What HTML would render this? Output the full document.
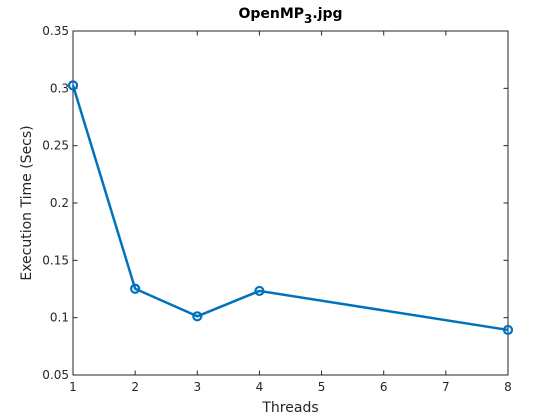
<!DOCTYPE html>
<html><head><meta charset="utf-8"><style>
html,body{margin:0;padding:0;background:#fff;}
svg{display:block;font-family:"DejaVu Sans","Liberation Sans",sans-serif;}
</style></head><body>
<svg id="chart" width="560" height="420" viewBox="0 0 560 420"></svg>
<script>
const categories = [1, 2, 3, 4, 8];
const execTimes = [0.3026, 0.1252, 0.1012, 0.1233, 0.0893];
const xTicks = [1, 2, 3, 4, 5, 6, 7, 8];
const yTicks = [0.05, 0.1, 0.15, 0.2, 0.25, 0.3, 0.35];
const yTickLabels = ["0.05", "0.1", "0.15", "0.2", "0.25", "0.3", "0.35"];

const L = 73, R = 508, T = 31, B = 375;
const xMin = 1, xMax = 8, yMin = 0.05, yMax = 0.35;
function xs(v){ return L + (v - xMin) / (xMax - xMin) * (R - L); }
function ys(v){ return B - (v - yMin) / (yMax - yMin) * (B - T); }

const svg = document.getElementById('chart');
const NS = 'http://www.w3.org/2000/svg';
function mk(tag, attrs, parent){
  const e = document.createElementNS(NS, tag);
  for (const k in attrs) e.setAttribute(k, attrs[k]);
  (parent || svg).appendChild(e);
  return e;
}

const box = mk('rect', {x:L, y:T, width:R-L, height:B-T, fill:'#fff', stroke:'#262626', 'stroke-width':1});



xTicks.forEach(function(t){
  const x = xs(t);
  mk('line', {x1:x, y1:B, x2:x, y2:B-4.5, stroke:'#262626'});
  mk('line', {x1:x, y1:T, x2:x, y2:T+4.5, stroke:'#262626'});
  const lb = mk('text', {x:x, y:B+16, 'text-anchor':'middle', 'font-size':12, fill:'#262626'});
  lb.textContent = t;
  
  
});
yTicks.forEach(function(t, i){
  const y = ys(t);
  mk('line', {x1:L, y1:y, x2:L+4.5, y2:y, stroke:'#262626'});
  mk('line', {x1:R, y1:y, x2:R-4.5, y2:y, stroke:'#262626'});
  const lb = mk('text', {x:L-4, y:y+4, 'text-anchor':'end', 'font-size':12, fill:'#262626'});
  lb.textContent = yTickLabels[i];
  
  
});

const pts = categories.map(function(c, i){ return xs(c) + ',' + ys(execTimes[i]); }).join(' ');
const line = mk('polyline', {points:pts, fill:'none', stroke:'#0072BD', 'stroke-width':2.5, 'stroke-linejoin':'round'});


categories.forEach(function(c, i){
  const m = mk('circle', {cx:xs(c), cy:ys(execTimes[i]), r:4, fill:'none', stroke:'#0072BD', 'stroke-width':2.2});
  
  
});

const title = mk('text', {x:(L+R)/2, y:18, 'text-anchor':'middle', 'font-size':14, 'font-weight':'bold', fill:'#000'});
title.innerHTML = 'OpenMP<tspan dy="5" font-size="12">3</tspan><tspan dy="-5">.jpg</tspan>';



const xt = mk('text', {x:(L+R)/2, y:412, 'text-anchor':'middle', 'font-size':14, fill:'#262626'});
xt.textContent = 'Threads';



const yt = mk('text', {x:0, y:0, 'text-anchor':'middle', 'font-size':14, fill:'#262626', transform:'translate(31,' + ((T+B)/2) + ') rotate(-90)'});
yt.textContent = 'Execution Time (Secs)';


</script>
</body></html>
